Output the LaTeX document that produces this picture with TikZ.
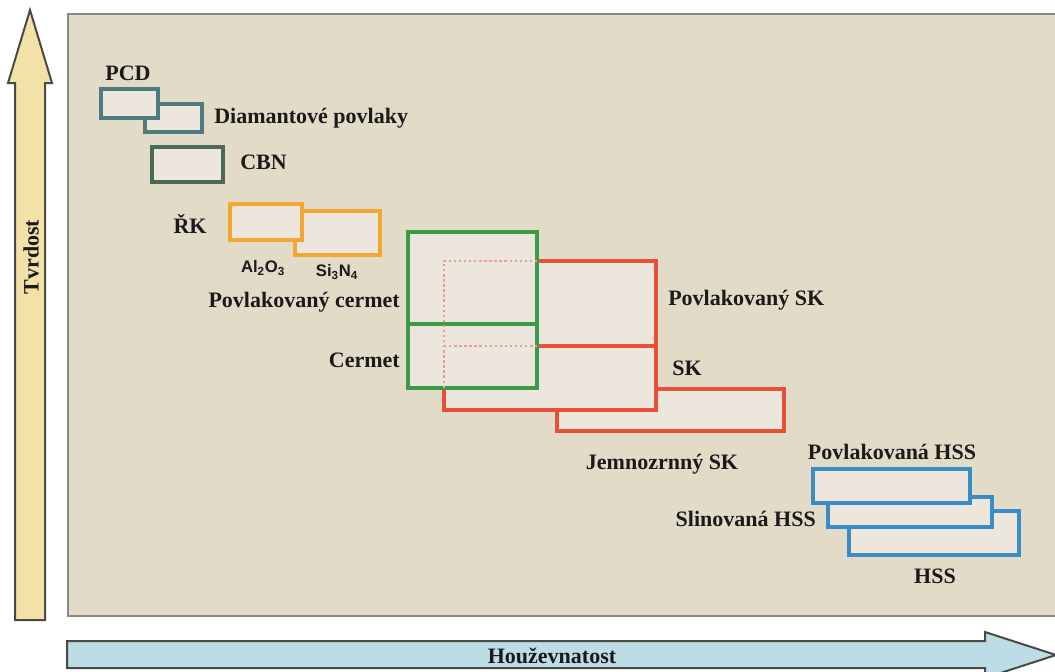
\documentclass[tikz,border=0pt]{standalone}
\usepackage{fontspec}
\setmainfont{Liberation Serif}
\newfontfamily\sansf{Liberation Sans}
\definecolor{panel}{HTML}{E2DBC8}
\definecolor{panelline}{HTML}{8A8A82}
\definecolor{boxfill}{HTML}{ECE6DC}
\definecolor{cteal}{HTML}{4E7A80}
\definecolor{cgreen}{HTML}{4A6A55}
\definecolor{corange}{HTML}{F2A830}
\definecolor{cgr}{HTML}{3C9A48}
\definecolor{cred}{HTML}{E8503A}
\definecolor{cpink}{HTML}{E6A090}
\definecolor{cblue}{HTML}{3A8CC8}
\definecolor{yarrow}{HTML}{F2E2A8}
\definecolor{barrow}{HTML}{BCDCE6}
\definecolor{arrline}{HTML}{4A4A45}
\definecolor{txt}{HTML}{1A1A1A}
\begin{document}
\begin{tikzpicture}[x=0.75pt,y=-0.75pt,
  lbl/.style={font=\fontsize{16.5}{18}\selectfont\bfseries, text=txt, inner sep=0pt},
  chem/.style={font=\sansf\fontsize{12.5}{14}\selectfont\bfseries, text=txt, inner sep=0pt},
  matbox/.style={draw=#1, line width=2.6pt, fill=boxfill},
  bigarrow/.style={draw=arrline, line width=1.5pt, line join=miter}
]
\useasboundingbox (0,0) rectangle (1055,671);
% panel
\fill[white] (0,0) rectangle (1055,671);
\draw[panelline, line width=2pt, fill=panel] (68,14) rectangle (1070,616);
% vertical arrow
\draw[bigarrow, fill=yarrow] (15,620) -- (15,83) -- (8,83) -- (30,10) -- (52,83) -- (45,83) -- (45,620) -- cycle;
\node[lbl, rotate=90] (tvrdost) at (31,257) {Tvrdost};
% horizontal arrow
\draw[bigarrow, fill=barrow] (67,641) -- (985,641) -- (985,632) -- (1056,655) -- (985,678) -- (985,668) -- (67,668) -- cycle;
\node[lbl] (houz) at (552,656) {Houževnatost};
% PCD / diamond
\draw[matbox=cteal] (145,104) rectangle (202,132);
\draw[matbox=cteal] (101,89) rectangle (158,118);
\node[lbl] (pcd) at (128,73) {PCD};
\node[lbl, anchor=west] (diam) at (214,118) {Diamantové povlaky};
% CBN
\draw[matbox=cgreen] (152,147) rectangle (223,182);
\node[lbl, anchor=west] (cbn) at (240,162) {CBN};
% ceramics
\draw[matbox=corange, line width=3pt] (295,211) rectangle (380,255);
\draw[matbox=corange, line width=3pt] (230,204) rectangle (302,240);
\node[lbl] (rk) at (190,224) {ŘK};
\node[chem] (al) at (263,268) {Al\textsubscript{2}O\textsubscript{3}};
\node[chem] (si) at (337,272) {Si\textsubscript{3}N\textsubscript{4}};
% SK
\draw[matbox=cred] (557,389) rectangle (784,431);
\draw[matbox=cred] (444,346) rectangle (656,410);
\draw[matbox=cred] (444,261) rectangle (656,346);
% cermet
\draw[matbox=cgr] (408,324) rectangle (537,388);
\draw[matbox=cgr] (408,232) rectangle (537,324);
\draw[cpink, line width=1.8pt, dotted] (444,388) -- (444,261) -- (537,261);
\draw[cpink, line width=1.8pt, dotted] (444,346) -- (537,346);
\node[lbl, anchor=east] (pcer) at (400,302) {Povlakovaný cermet};
\node[lbl, anchor=east] (cer) at (400,360) {Cermet};
\node[lbl, anchor=west] (psk) at (668,300) {Povlakovaný SK};
\node[lbl, anchor=west] (sk) at (672,368) {SK};
\node[lbl] (jsk) at (662,464) {Jemnozrnný SK};
% HSS
\draw[matbox=cblue] (849,511) rectangle (1019,555);
\draw[matbox=cblue] (828,497) rectangle (992,527);
\draw[matbox=cblue] (813,469) rectangle (970,503);
\node[lbl] (phss) at (892,452) {Povlakovaná HSS};
\node[lbl, anchor=east] (shss) at (816,519) {Slinovaná HSS};
\node[lbl] (hss) at (935,576) {HSS};
\end{tikzpicture}
\end{document}
